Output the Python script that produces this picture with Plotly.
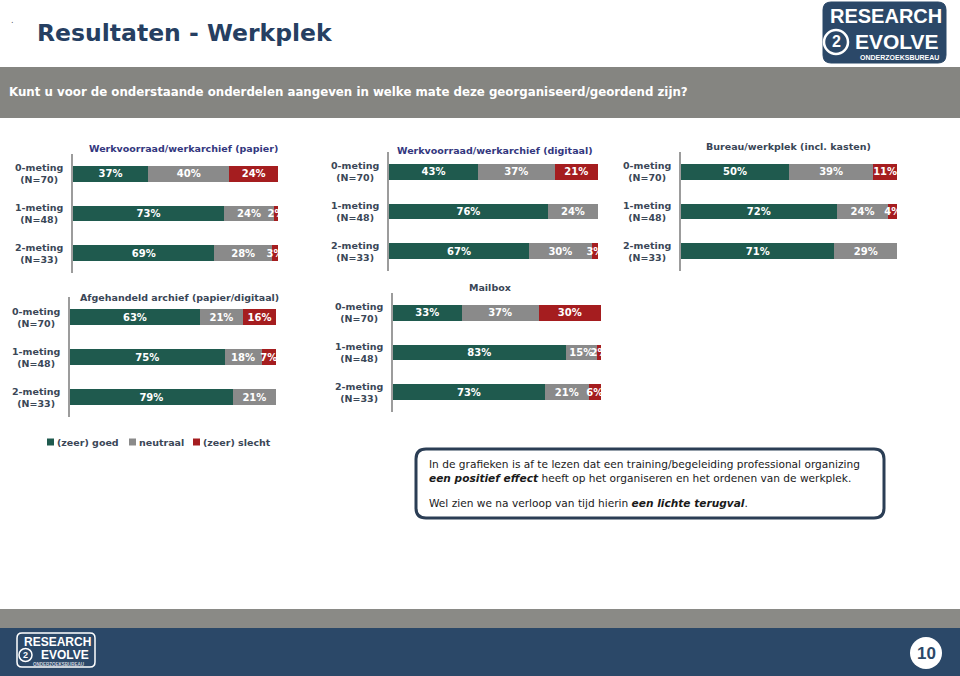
import plotly.graph_objects as go

# ---------------- data ----------------
measurements = ["0-meting", "1-meting", "2-meting"]
sample_sizes = ["(N=70)", "(N=48)", "(N=33)"]
series_names = ["(zeer) goed", "neutraal", "(zeer) slecht"]

chart_titles = [
    "Werkvoorraad/werkarchief (papier)",
    "Werkvoorraad/werkarchief (digitaal)",
    "Bureau/werkplek (incl. kasten)",
    "Afgehandeld archief (papier/digitaal)",
    "Mailbox",
]

goed_papier = [37, 73, 69]
neutraal_papier = [40, 24, 28]
slecht_papier = [24, 2, 3]

goed_digitaal = [43, 76, 67]
neutraal_digitaal = [37, 24, 30]
slecht_digitaal = [21, 0, 3]

goed_bureau = [50, 72, 71]
neutraal_bureau = [39, 24, 29]
slecht_bureau = [11, 4, 0]

goed_archief = [63, 75, 79]
neutraal_archief = [21, 18, 21]
slecht_archief = [16, 7, 0]

goed_mailbox = [33, 83, 73]
neutraal_mailbox = [37, 15, 21]
slecht_mailbox = [30, 2, 6]

chart_values = [
    (goed_papier, neutraal_papier, slecht_papier),
    (goed_digitaal, neutraal_digitaal, slecht_digitaal),
    (goed_bureau, neutraal_bureau, slecht_bureau),
    (goed_archief, neutraal_archief, slecht_archief),
    (goed_mailbox, neutraal_mailbox, slecht_mailbox),
]

# ---------------- style / geometry ----------------
W, H = 960, 676
FONT = "DejaVu Sans, Verdana, sans-serif"
NARROW = "Liberation Sans Narrow, Arial Narrow, Liberation Sans, sans-serif"
COLORS = ["#1f5a4e", "#8a8a8a", "#a51d1f"]
NAVY = "#2b4868"
TITLE_BLUE = "#263f62"
LABEL_COL = "#3b4757"

def X(px):
    return px / W

def Y(py):
    return 1 - py / H

# pixel geometry of each panel: axis x, bar end x, top, bottom, title center x, title y, title colour
panels = [
    dict(x0=73, x1=278, y0=154, y1=273, tx=183, ty=148, tc="#33377e"),
    dict(x0=389, x1=598, y0=152, y1=271, tx=495, ty=150, tc="#33377e"),
    dict(x0=681, x1=897, y0=152, y1=271, tx=788, ty=146, tc="#3a4656"),
    dict(x0=70, x1=276, y0=297, y1=417, tx=179, ty=297, tc="#3a4656"),
    dict(x0=393, x1=601, y0=293, y1=412, tx=490, ty=287, tc="#3a4656"),
]

fig = go.Figure()
annotations = []
shapes = []

for i, (p, vals, title) in enumerate(zip(panels, chart_values, chart_titles), start=1):
    xa = "x" if i == 1 else f"x{i}"
    ya = "y" if i == 1 else f"y{i}"
    for s, (name, v) in enumerate(zip(series_names, vals)):
        fig.add_trace(go.Bar(
            x=v, y=measurements, orientation="h", name=name,
            xaxis=xa, yaxis=ya, width=0.4,
            marker=dict(color=COLORS[s], line=dict(width=0)),
            text=[f"{t}%" if t > 0 else "" for t in v],
            textposition="inside", insidetextanchor="middle",
            textangle=0, constraintext="none", cliponaxis=True,
            textfont=dict(family=FONT, size=10, color="white", weight="bold"),
            showlegend=False, hoverinfo="skip",
        ))
    fig.layout[f"xaxis{'' if i == 1 else i}"] = dict(
        domain=[X(p["x0"]), X(p["x1"])], range=[0, 100], anchor=ya,
        visible=False, fixedrange=True,
    )
    fig.layout[f"yaxis{'' if i == 1 else i}"] = dict(
        domain=[Y(p["y1"]), Y(p["y0"])], type="category",
        categoryarray=measurements, range=[2.5, -0.5], anchor=xa,
        showline=True, linecolor="#9c9c9c", linewidth=1.5,
        showticklabels=False, ticks="", showgrid=False, zeroline=False,
        fixedrange=True,
    )
    annotations.append(dict(
        xref="paper", yref="paper", x=X(p["tx"]), y=Y(p["ty"]),
        text=f"<b>{title}</b>", showarrow=False, xanchor="center", yanchor="middle",
        font=dict(family=FONT, size=9.5, color=p["tc"]),
    ))
    for m, n in zip(measurements, sample_sizes):
        annotations.append(dict(
            xref="paper", yref=ya, x=X(p["x0"] - 8), y=m,
            text=f"<b>{m}<br>{n}</b>", showarrow=False, xanchor="right",
            yanchor="middle", align="center",
            font=dict(family=FONT, size=9.5, color=LABEL_COL),
        ))

# ---------------- page decoration ----------------
def rounded(x0, y0, x1, y1, r):
    rx, ry = r / W, r / H
    a, b, c, d = X(x0), Y(y0), X(x1), Y(y1)
    return (f"M {a+rx},{b} L {c-rx},{b} Q {c},{b} {c},{b-ry} "
            f"L {c},{d+ry} Q {c},{d} {c-rx},{d} L {a+rx},{d} "
            f"Q {a},{d} {a},{d+ry} L {a},{b-ry} Q {a},{b} {a+rx},{b} Z")

# header grey band
shapes.append(dict(type="rect", xref="paper", yref="paper", x0=0, x1=1,
                   y0=Y(118), y1=Y(67), fillcolor="#858581", line_width=0, layer="below"))
# footer bands
shapes.append(dict(type="rect", xref="paper", yref="paper", x0=0, x1=1,
                   y0=Y(628), y1=Y(609), fillcolor="#8a8a86", line_width=0, layer="below"))
shapes.append(dict(type="rect", xref="paper", yref="paper", x0=0, x1=1,
                   y0=0, y1=Y(628), fillcolor=NAVY, line_width=0, layer="below"))
# top-right logo
shapes.append(dict(type="path", xref="paper", yref="paper", path=rounded(823, 2, 946, 63, 8),
                   fillcolor=NAVY, line=dict(color=NAVY, width=1), layer="below"))
shapes.append(dict(type="circle", xref="paper", yref="paper", x0=X(824), x1=X(848),
                   y0=Y(54), y1=Y(30), line=dict(color="white", width=2.5), fillcolor=NAVY))
# footer logo outline
shapes.append(dict(type="path", xref="paper", yref="paper", path=rounded(17, 633, 95, 667, 5),
                   line=dict(color="white", width=1.5)))
shapes.append(dict(type="circle", xref="paper", yref="paper", x0=X(19), x1=X(32),
                   y0=Y(661.5), y1=Y(648.5), line=dict(color="white", width=1.5)))
# page number circle
shapes.append(dict(type="circle", xref="paper", yref="paper", x0=X(910), x1=X(942),
                   y0=Y(669), y1=Y(637), fillcolor="white", line_width=0))
# text box
shapes.append(dict(type="path", xref="paper", yref="paper", path=rounded(416, 449, 884, 518, 10),
                   fillcolor="white", line=dict(color="#2b3e55", width=3)))

# legend (drawn manually)
legend_pos = [(47, 55), (129, 137), (193, 201)]
for (sx, tx), name, col in zip(legend_pos, series_names, COLORS):
    shapes.append(dict(type="rect", xref="paper", yref="paper", x0=X(sx), x1=X(sx + 7),
                       y0=Y(445.5), y1=Y(438.5), fillcolor=col, line_width=0))
    annotations.append(dict(xref="paper", yref="paper", x=X(tx), y=Y(442),
                            text=f"<b>{name}</b>", showarrow=False, xanchor="left",
                            yanchor="middle", font=dict(family=FONT, size=9.5, color=LABEL_COL)))

def txt(x, y, text, size, color, anchor="left", family=FONT):
    annotations.append(dict(xref="paper", yref="paper", x=X(x), y=Y(y), text=text,
                            showarrow=False, xanchor=anchor, yanchor="middle",
                            font=dict(family=family, size=size, color=color)))

txt(9, 20, ".", 8, "#555555")
txt(35, 33, "<b>Resultaten - Werkplek</b>", 23.5, TITLE_BLUE)
txt(7, 92, "<b>Kunt u voor de onderstaande onderdelen aangeven in welke mate deze georganiseerd/geordend zijn?</b>",
    11.8, "white")

BOX_FS = 10.6
txt(427, 464, "In de grafieken is af te lezen dat een training/begeleiding professional organizing", BOX_FS, "#1a1a1a")
txt(427, 478, "<b><i>een positief effect</i></b> heeft op het organiseren en het ordenen van de werkplek.", BOX_FS, "#1a1a1a")
txt(427, 503, "Wel zien we na verloop van tijd hierin <b><i>een lichte terugval</i></b>.", BOX_FS, "#1a1a1a")

# logo texts
txt(886, 16, "<b>RESEARCH</b>", 20, "white", "center", NARROW)
txt(897, 42, "<b>EVOLVE</b>", 21, "white", "center", NARROW)
txt(836, 42, "<b>2</b>", 16, "white", "center", NARROW)
txt(899, 58, "<b>ONDERZOEKSBUREAU</b>", 7, "white", "center", NARROW)

txt(57, 642, "<b>RESEARCH</b>", 12, "white", "center", NARROW)
txt(65, 655, "<b>EVOLVE</b>", 12, "white", "center", NARROW)
txt(25.5, 655, "<b>2</b>", 9, "white", "center", NARROW)
txt(58, 664.5, "<b>ONDERZOEKSBUREAU</b>", 4.5, "#d0d6de", "center", NARROW)

txt(926, 653.5, "<b>10</b>", 17, NAVY, "center", "Liberation Sans, sans-serif")

fig.update_layout(
    width=W, height=H, margin=dict(l=0, r=0, t=0, b=0),
    paper_bgcolor="white", plot_bgcolor="rgba(0,0,0,0)",
    barmode="stack", barnorm="percent", bargap=0.6,
    showlegend=False, annotations=annotations, shapes=shapes,
    font=dict(family=FONT),
)

fig.write_html(
    "out.html",
    config={"displayModeBar": False},
    post_script="document.body.style.margin='0';document.body.style.overflow='hidden';",
)
